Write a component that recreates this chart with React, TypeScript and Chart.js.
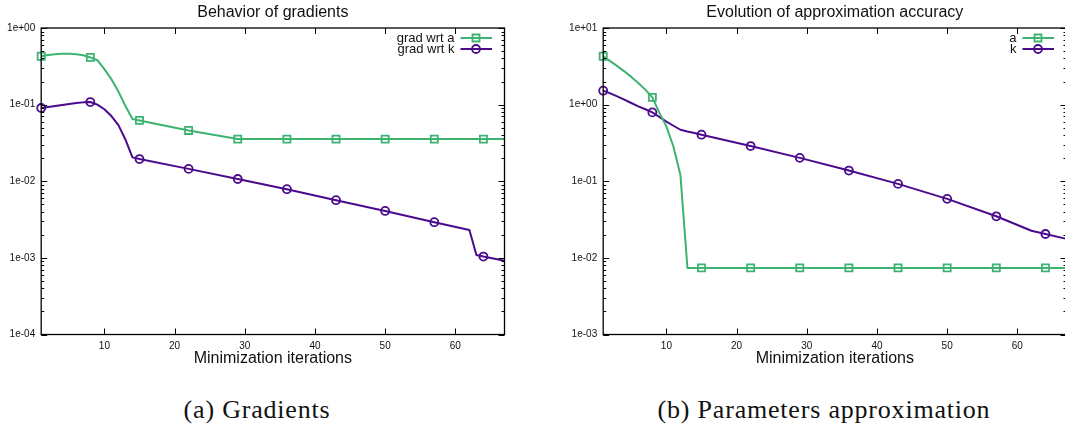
import React, { useEffect, useRef } from 'react';
import { Chart, registerables } from 'chart.js';

Chart.register(...registerables);

// ---------- data ----------
const xTitle = 'Minimization iterations';
const xTicks = [10, 20, 30, 40, 50, 60];
const markerIters = [1, 8, 15, 22, 29, 36, 43, 50, 57, 64];
const captions = ['(a) Gradients', '(b) Parameters approximation'];

// (a) Behavior of gradients
const gradTitle = 'Behavior of gradients';
const gradLabels = ['grad wrt a', 'grad wrt k'];
const gradYTicks = [1e-4, 1e-3, 1e-2, 1e-1, 1];
const gradAIter = [1, 2, 3, 4, 5, 6, 7, 8, 9, 10, 11, 12, 13, 14, 15, 22, 29, 36, 43, 50, 57, 64, 67];
const gradA = [0.428, 0.445, 0.455, 0.46, 0.46, 0.455, 0.44, 0.413, 0.38, 0.29, 0.215, 0.148, 0.096, 0.065, 0.0622, 0.046, 0.0355, 0.0355, 0.0355, 0.0355, 0.0355, 0.0355, 0.0355];
const gradKIter = [1, 2, 3, 4, 5, 6, 7, 8, 9, 10, 11, 12, 13, 14, 15, 22, 29, 36, 43, 50, 57, 62, 63, 64, 67];
const gradK = [0.0904, 0.093, 0.096, 0.099, 0.102, 0.105, 0.107, 0.108, 0.1, 0.087, 0.071, 0.054, 0.035, 0.0205, 0.0195, 0.0145, 0.0107, 0.00788, 0.00566, 0.0041, 0.00292, 0.00231, 0.00109, 0.00104, 0.00092];

// (b) Evolution of approximation accuracy
const accTitle = 'Evolution of approximation accuracy';
const accLabels = ['a', 'k'];
const accYTicks = [1e-3, 1e-2, 1e-1, 1, 10];
const accAIter = [1, 2, 3, 4, 5, 6, 7, 8, 9, 10, 11, 12, 13, 15, 22, 29, 36, 43, 50, 57, 64, 67];
const accA = [4.28, 3.7, 3.18, 2.72, 2.3, 1.92, 1.57, 1.244, 0.78, 0.52, 0.284, 0.121, 0.0074, 0.0074, 0.0074, 0.0074, 0.0074, 0.0074, 0.0074, 0.0074, 0.0074, 0.0074];
const accKIter = [1, 2, 3, 4, 5, 6, 7, 8, 9, 10, 11, 12, 13, 14, 15, 22, 29, 36, 43, 50, 57, 62, 64, 67];
const accK = [1.52, 1.4, 1.28, 1.16, 1.05, 0.95, 0.87, 0.792, 0.69, 0.6, 0.53, 0.47, 0.445, 0.425, 0.405, 0.288, 0.202, 0.138, 0.0924, 0.0589, 0.0349, 0.0226, 0.0205, 0.0177];

// ---------- styling ----------
const FONT = '"Liberation Sans", Arial, Helvetica, sans-serif';
const GREEN = '#3cb371';
const PURPLE = '#4b0a8c';
const CW = 548;
const CH = 372;
const AREA_LEFT = 41.2;
const AREA_RIGHT = 504.5;

const fmtExp = (v: number) => {
  const e = Math.round(Math.log10(v));
  return '1e' + (e < 0 ? '-' : '+') + String(Math.abs(e)).padStart(2, '0');
};

const framePlugin = {
  id: 'gpFrame',
  afterDraw(chart: any) {
    const { ctx, chartArea } = chart;
    const { left, right, top, bottom } = chartArea;
    const x = chart.scales.x;
    const y = chart.scales.y;
    ctx.save();
    ctx.strokeStyle = '#000';
    ctx.lineWidth = 1;
    ctx.beginPath();
    const ymin = y.min;
    const ymax = y.max;
    let d = Math.pow(10, Math.floor(Math.log10(ymin) + 1e-9));
    while (d <= ymax * 1.0001) {
      for (let k = 1; k <= 9; k++) {
        const v = d * k;
        if (v < ymin * 0.9999 || v > ymax * 1.0001) continue;
        const py = Math.round(y.getPixelForValue(v)) + 0.5;
        const len = k === 1 ? 6 : 3;
        ctx.moveTo(left, py);
        ctx.lineTo(left + len, py);
        ctx.moveTo(right, py);
        ctx.lineTo(right - len, py);
      }
      d *= 10;
    }
    xTicks.forEach((v) => {
      const px = Math.round(x.getPixelForValue(v)) + 0.5;
      ctx.moveTo(px, bottom);
      ctx.lineTo(px, bottom - 6);
      ctx.moveTo(px, top);
      ctx.lineTo(px, top + 6);
    });
    ctx.stroke();
    ctx.lineWidth = 1.3;
    ctx.strokeRect(left, top, right - left, bottom - top);
    ctx.restore();
  },
};

const legendPlugin = {
  id: 'gpLegend',
  afterDraw(chart: any) {
    const { ctx, chartArea } = chart;
    ctx.save();
    ctx.font = `13px ${FONT}`;
    ctx.textAlign = 'right';
    ctx.textBaseline = 'middle';
    chart.data.datasets.forEach((ds: any, i: number) => {
      const y = chartArea.top + 10 + i * 11;
      ctx.fillStyle = '#111';
      ctx.fillText(ds.label, chartArea.right - 50, y);
      ctx.strokeStyle = ds.borderColor;
      ctx.lineWidth = 2;
      ctx.beginPath();
      ctx.moveTo(chartArea.right - 44, y);
      ctx.lineTo(chartArea.right - 12.5, y);
      ctx.stroke();
      const mx = chartArea.right - 28.5;
      ctx.lineWidth = 1.8;
      ctx.beginPath();
      if (ds.pointStyle === 'rect') ctx.rect(mx - 3.5, y - 3.5, 7, 7);
      else ctx.arc(mx, y, 4, 0, Math.PI * 2);
      ctx.stroke();
    });
    ctx.restore();
  },
};

type Series = { iters: number[]; values: number[]; color: string; style: string; radius: number };

function GnuplotChart(props: { title: string; labels: string[]; series: Series[]; yTicks: number[]; left: number }) {
  const ref = useRef<HTMLCanvasElement>(null);
  const { title, labels, series, yTicks, left } = props;
  useEffect(() => {
    const chart = new Chart(ref.current as HTMLCanvasElement, {
      type: 'line',
      data: {
        datasets: series.map((s, i) => ({
          label: labels[i],
          data: s.iters.map((x, j) => ({ x, y: s.values[j] })),
          borderColor: s.color,
          backgroundColor: 'rgba(0,0,0,0)',
          borderWidth: 2,
          borderJoinStyle: 'round',
          tension: 0,
          pointStyle: s.style,
          pointRadius: (c: any) => (c.raw && markerIters.includes(c.raw.x) ? s.radius : 0),
          pointBorderWidth: 1.8,
          pointBorderColor: s.color,
          pointBackgroundColor: 'rgba(0,0,0,0)',
          fill: false,
          clip: false,
        })) as any,
      },
      options: {
        responsive: false,
        animation: false,
        events: [],
        layout: { padding: { left: 0, right: CW - AREA_RIGHT, top: 0, bottom: 0 } },
        plugins: {
          legend: { display: false },
          tooltip: { enabled: false },
          title: {
            display: true,
            fullSize: false,
            text: title,
            color: '#111',
            font: { family: FONT, size: 16, weight: 'normal' as any },
            padding: { top: 3.4, bottom: 5.4 },
          },
        },
        scales: {
          x: {
            type: 'linear',
            min: 1,
            max: 67,
            bounds: 'data',
            afterBuildTicks: (s: any) => {
              s.ticks = xTicks.map((v) => ({ value: v }));
            },
            afterFit: (s: any) => {
              s.height = 37.5;
            },
            grid: { display: false, drawTicks: false },
            border: { display: false },
            ticks: { color: '#111', font: { family: FONT, size: 10 }, padding: 5.5, maxRotation: 0, autoSkip: false },
            title: {
              display: true,
              text: xTitle,
              color: '#111',
              font: { family: FONT, size: 16 },
              padding: { top: 0, bottom: 3.4 },
            },
          },
          y: {
            type: 'logarithmic',
            min: yTicks[0],
            max: yTicks[yTicks.length - 1],
            bounds: 'data',
            afterBuildTicks: (s: any) => {
              s.ticks = yTicks.map((v) => ({ value: v }));
            },
            afterFit: (s: any) => {
              s.width = AREA_LEFT;
            },
            grid: { display: false, drawTicks: false },
            border: { display: false },
            ticks: {
              color: '#111',
              font: { family: FONT, size: 10 },
              padding: 6,
              autoSkip: false,
              callback: (v: any) => fmtExp(Number(v)),
            },
          },
        },
      } as any,
      plugins: [framePlugin, legendPlugin],
    });
    return () => chart.destroy();
  }, []);
  return (
    <canvas
      ref={ref}
      width={CW}
      height={CH}
      style={{ position: 'absolute', left, top: 0, width: CW, height: CH }}
    />
  );
}

export default function App() {
  useEffect(() => {
    document.body.style.margin = '0';
  }, []);
  const capStyle = (center: number, w: number): React.CSSProperties => ({
    position: 'absolute',
    left: center - w / 2,
    width: w,
    top: 396,
    height: 28,
    lineHeight: '28px',
    textAlign: 'center',
    fontFamily: '"Liberation Serif", "Times New Roman", serif',
    fontSize: 26,
    letterSpacing: '0.8px',
    color: '#111',
    whiteSpace: 'nowrap',
  });
  return (
    <div style={{ position: 'absolute', left: 0, top: 0, width: 1065, height: 434, overflow: 'hidden', background: '#fff' }}>
      <GnuplotChart
        title={gradTitle}
        labels={gradLabels}
        yTicks={gradYTicks}
        left={0}
        series={[
          { iters: gradAIter, values: gradA, color: GREEN, style: 'rect', radius: 5 },
          { iters: gradKIter, values: gradK, color: PURPLE, style: 'circle', radius: 4 },
        ]}
      />
      <GnuplotChart
        title={accTitle}
        labels={accLabels}
        yTicks={accYTicks}
        left={562}
        series={[
          { iters: accAIter, values: accA, color: GREEN, style: 'rect', radius: 5 },
          { iters: accKIter, values: accK, color: PURPLE, style: 'circle', radius: 4 },
        ]}
      />
      <div style={capStyle(257, 300)}>{captions[0]}</div>
      <div style={capStyle(824, 420)}>{captions[1]}</div>
    </div>
  );
}
